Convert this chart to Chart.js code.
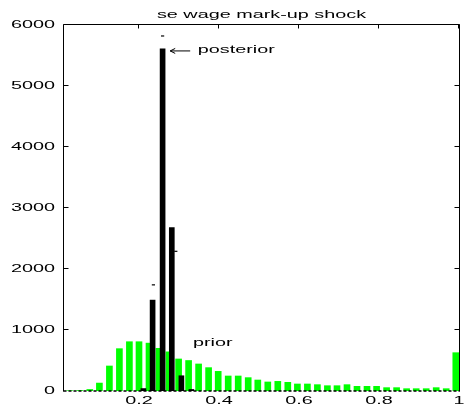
<!DOCTYPE html>
<html>
<head>
<meta charset="utf-8">
<script src="https://cdn.jsdelivr.net/npm/chart.js@4"></script>
<style>
  html, body { margin: 0; padding: 0; background: #fff; }
  #wrap { width: 466px; height: 410px; }
</style>
</head>
<body>
<div id="wrap"><canvas id="hist"></canvas></div>
<script>
/* ---------------------------------
   DATA
--------------------------------- */
const chartTitle = "se wage mark-up shock";
const xTickValues = [0.2, 0.4, 0.6, 0.8, 1];
const xTickLabels = ["0.2", "0.4", "0.6", "0.8", "1"];
const yTickValues = [0, 1000, 2000, 3000, 4000, 5000, 6000];
const yTickLabels = ["0", "1000", "2000", "3000", "4000", "5000", "6000"];

// prior histogram (green)
const priorBins = [
  0.027, 0.052, 0.077, 0.101, 0.126, 0.151, 0.176, 0.200, 0.225, 0.250,
  0.275, 0.299, 0.324, 0.349, 0.374, 0.398, 0.423, 0.448, 0.473, 0.497,
  0.522, 0.547, 0.572, 0.596, 0.621, 0.646, 0.671, 0.695, 0.720, 0.745,
  0.770, 0.794, 0.819, 0.844, 0.869, 0.893, 0.918, 0.943, 0.968, 0.992
];
const priorCounts = [
  5, 8, 25, 130, 410, 694, 808, 808, 785, 700,
  642, 525, 500, 443, 383, 322, 246, 246, 219, 180,
  148, 158, 142, 115, 115, 104, 87, 87, 104, 77,
  77, 77, 55, 55, 38, 38, 38, 55, 38, 628
];

// posterior histogram (black)
const posteriorBins = [0.211, 0.234, 0.259, 0.282, 0.306, 0.331];
const posteriorCounts = [40, 1490, 5610, 2680, 250, 25];

// small marks above posterior bars
const markX = [0.236, 0.259, 0.292];
const markY = [1740, 5820, 2290];

/* ---------------------------------
   DRAWING HELPERS
--------------------------------- */
const FONT = "11px 'Liberation Sans', Arial, sans-serif";
const STRETCH = 1.8;  // text in the figure is widened

function stretchedText(ctx, txt, x, y, align, baseline) {
  ctx.save();
  ctx.translate(x, y);
  ctx.scale(STRETCH, 1);
  ctx.font = FONT;
  ctx.fillStyle = "#000";
  ctx.textAlign = align;
  ctx.textBaseline = baseline;
  ctx.fillText(txt, 0, 0);
  ctx.restore();
}

const frame = {
  id: "frame",
  beforeDatasetsDraw(chart) {
    const { ctx, chartArea: a, scales } = chart;
    ctx.save();
    ctx.strokeStyle = "#000";
    ctx.lineWidth = 1;
    // bottom ticks (hidden under bars mostly)
    xTickValues.forEach((v) => {
      const px = Math.round(scales.x.getPixelForValue(v)) - 0.5;
      ctx.beginPath();
      ctx.moveTo(px, a.bottom);
      ctx.lineTo(px, a.bottom - 5);
      ctx.stroke();
    });
    ctx.restore();
  },
  afterDatasetsDraw(chart) {
    const { ctx, chartArea: a, scales } = chart;
    const L = a.left - 0.5, R = a.right + 0.5, T = a.top - 0.5, B = a.bottom + 0.5;
    ctx.save();
    ctx.strokeStyle = "#000";
    ctx.lineWidth = 1;
    ctx.beginPath();
    ctx.moveTo(L, B);
    ctx.lineTo(L, T);
    ctx.lineTo(R, T);
    ctx.lineTo(R, B);
    ctx.stroke();
    // dotted baseline
    ctx.setLineDash([3, 2]);
    ctx.lineWidth = 1.5;
    ctx.beginPath();
    ctx.moveTo(L, B - 0.5);
    ctx.lineTo(R, B - 0.5);
    ctx.stroke();
    ctx.setLineDash([]);
    ctx.lineWidth = 1;
    // inward ticks
    yTickValues.forEach((v, i) => {
      const py = Math.round(scales.y.getPixelForValue(v)) - 0.5;
      if (i > 0) {
        ctx.beginPath();
        ctx.moveTo(L, py); ctx.lineTo(L + 5, py);
        ctx.moveTo(R, py); ctx.lineTo(R - 5, py);
        ctx.stroke();
      }
      stretchedText(ctx, yTickLabels[i], a.left - 9, py + 0.5, "right", "middle");
    });
    xTickValues.forEach((v, i) => {
      const px = Math.round(scales.x.getPixelForValue(v)) - 0.5;
      ctx.beginPath();
      ctx.moveTo(px, T); ctx.lineTo(px, T + 4);
      ctx.stroke();
      stretchedText(ctx, xTickLabels[i], px + 0.5, a.bottom + 12.5, "center", "alphabetic");
    });
    // title
    stretchedText(ctx, chartTitle, (a.left + a.right) / 2, 18, "center", "alphabetic");
    // annotations
    const ax = scales.x.getPixelForValue(0.278);
    const ay = scales.y.getPixelForValue(5575);
    ctx.beginPath();
    ctx.moveTo(ax, ay); ctx.lineTo(ax + 20, ay);
    ctx.moveTo(ax, ay); ctx.lineTo(ax + 5, ay - 2.5);
    ctx.moveTo(ax, ay); ctx.lineTo(ax + 5, ay + 2.5);
    ctx.stroke();
    stretchedText(ctx, "posterior", scales.x.getPixelForValue(0.347), ay + 2.5, "left", "alphabetic");
    stretchedText(ctx, "prior", scales.x.getPixelForValue(0.335), scales.y.getPixelForValue(740), "left", "alphabetic");
    ctx.restore();
  }
};

/* ---------------------------------
   CHART
--------------------------------- */
const ctx = document.getElementById("hist").getContext("2d");
new Chart(ctx, {
  type: "bar",
  data: {
    datasets: [
      {
        type: "scatter",
        data: markX.map((x, i) => ({ x, y: markY[i] })),
        pointStyle: "line",
        radius: 1.6,
        borderColor: "#000",
        borderWidth: 1.2,
        order: 0
      },
      {
        label: "posterior",
        data: posteriorBins.map((x, i) => ({ x, y: posteriorCounts[i] })),
        backgroundColor: "#000",
        borderWidth: 0,
        barThickness: 5,
        grouped: false,
        order: 1
      },
      {
        label: "prior",
        data: priorBins.map((x, i) => ({ x, y: priorCounts[i] })),
        backgroundColor: "#00ff00",
        borderWidth: 0,
        barThickness: 6,
        grouped: false,
        order: 2
      }
    ]
  },
  options: {
    responsive: true,
    maintainAspectRatio: false,
    animation: false,
    layout: { padding: { top: 25, right: 7, left: 0, bottom: 0 } },
    plugins: {
      legend: { display: false },
      title: { display: false },
      tooltip: { enabled: false }
    },
    scales: {
      x: {
        type: "linear",
        min: 0.0125,
        max: 1,
        offset: false,
        grid: { display: false },
        border: { display: false },
        ticks: { display: false },
        afterFit: (s) => { s.height = 19; }
      },
      y: {
        min: 0,
        max: 6000,
        grid: { display: false },
        border: { display: false },
        ticks: { display: false },
        afterFit: (s) => { s.width = 64; }
      }
    }
  },
  plugins: [frame]
});
</script>
</body>
</html>
